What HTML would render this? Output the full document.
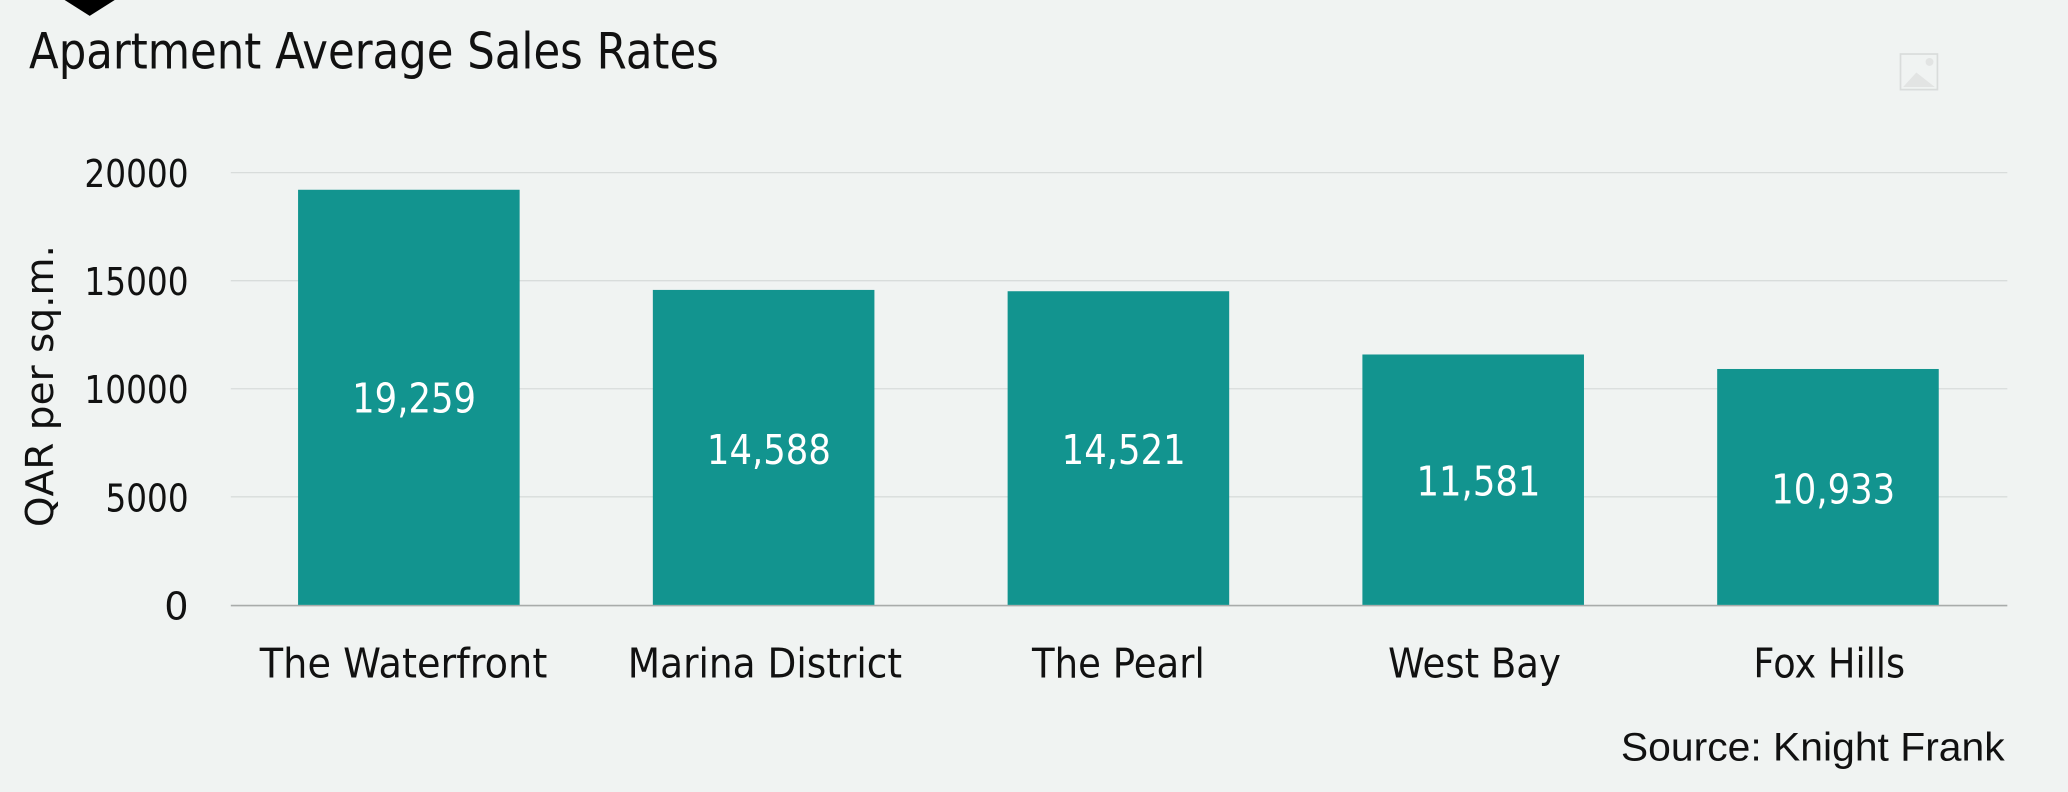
<!DOCTYPE html>
<html><head><meta charset="utf-8"><style>
html,body{margin:0;padding:0;background:#f0f3f2;}
svg{display:block;}
</style></head><body>
<svg width="2068" height="792" viewBox="0 0 1568 601" preserveAspectRatio="none" xmlns="http://www.w3.org/2000/svg" font-family="'DejaVu Sans', 'Liberation Sans', sans-serif">
<rect width="1568" height="601" fill="#f0f3f2"/>
<polygon points="49,0 87,0 68,12" fill="#000"/>
<text x="22" y="52" font-size="38" fill="#111" textLength="523" lengthAdjust="spacingAndGlyphs">Apartment Average Sales Rates</text>
<g stroke="#d9dcdb" stroke-width="1.3" fill="none">
<rect x="1441" y="41" width="28" height="27"/>
</g>
<polygon points="1443,66 1453,55 1467,66" fill="#e2e4e3"/>
<circle cx="1463" cy="47" r="3" fill="#e2e4e3"/>
<g stroke="#d8dcdb" stroke-width="1">
<line x1="175" y1="131" x2="1522" y2="131"/>
<line x1="175" y1="213" x2="1522" y2="213"/>
<line x1="175" y1="295" x2="1522" y2="295"/>
<line x1="175" y1="377" x2="1522" y2="377"/>
</g>
<line x1="175" y1="459.5" x2="1522" y2="459.5" stroke="#a8abaa" stroke-width="1.2"/>
<g font-size="29" fill="#111" text-anchor="end" lengthAdjust="spacingAndGlyphs">
<text x="143" y="142" textLength="79" lengthAdjust="spacingAndGlyphs">20000</text>
<text x="143" y="224" textLength="79" lengthAdjust="spacingAndGlyphs">15000</text>
<text x="143" y="306" textLength="79" lengthAdjust="spacingAndGlyphs">10000</text>
<text x="143" y="388" textLength="63" lengthAdjust="spacingAndGlyphs">5000</text>
<text x="143" y="470">0</text>
</g>
<text transform="translate(40,293) rotate(-90)" font-size="29" fill="#111" text-anchor="middle" textLength="214" lengthAdjust="spacingAndGlyphs">QAR per sq.m.</text>
<g fill="#12948f">
<rect x="226" y="144" width="168" height="315"/>
<rect x="495" y="220" width="168" height="239"/>
<rect x="764" y="221" width="168" height="238"/>
<rect x="1033" y="269" width="168" height="190"/>
<rect x="1302" y="280" width="168" height="179"/>
</g>
<g font-size="31" fill="#fff" text-anchor="middle">
<text x="314" y="313" textLength="94" lengthAdjust="spacingAndGlyphs">19,259</text>
<text x="583" y="352" textLength="94" lengthAdjust="spacingAndGlyphs">14,588</text>
<text x="852" y="352" textLength="94" lengthAdjust="spacingAndGlyphs">14,521</text>
<text x="1121" y="376" textLength="94" lengthAdjust="spacingAndGlyphs">11,581</text>
<text x="1390" y="382" textLength="94" lengthAdjust="spacingAndGlyphs">10,933</text>
</g>
<g font-size="31" fill="#111" text-anchor="middle">
<text x="306" y="514" textLength="218" lengthAdjust="spacingAndGlyphs">The Waterfront</text>
<text x="580" y="514" textLength="208" lengthAdjust="spacingAndGlyphs">Marina District</text>
<text x="848" y="514" textLength="131" lengthAdjust="spacingAndGlyphs">The Pearl</text>
<text x="1118" y="514" textLength="131" lengthAdjust="spacingAndGlyphs">West Bay</text>
<text x="1387" y="514" textLength="115" lengthAdjust="spacingAndGlyphs">Fox Hills</text>
</g>
<text x="1520" y="577" font-family="'Liberation Sans', sans-serif" font-size="30" fill="#111" text-anchor="end" textLength="291" lengthAdjust="spacingAndGlyphs">Source: Knight Frank</text>
</svg>
</body></html>
